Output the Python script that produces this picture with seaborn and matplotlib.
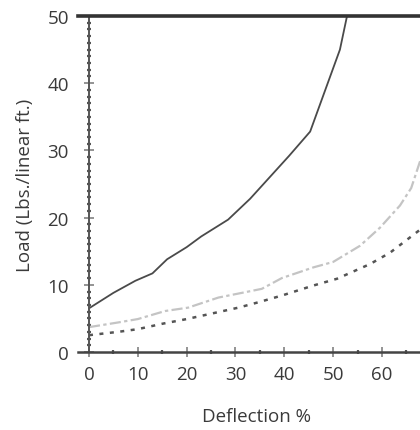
import matplotlib
matplotlib.use("Agg")
import matplotlib.pyplot as plt
import seaborn as sns
import pandas as pd
from matplotlib.ticker import MultipleLocator

# ---- data ----
solid_x = [0, 5, 9.5, 13, 16, 20, 23, 28.5, 33, 37, 41, 45.3, 48.7, 51.4, 53]
solid_y = [6.5, 8.8, 10.6, 11.7, 13.8, 15.6, 17.2, 19.7, 22.8, 26.0, 29.2, 32.8, 39.6, 45, 50.5]

gray_x = [0, 6, 10, 15.6, 20.3, 26.5, 32, 35.4, 39.5, 46, 50, 55.5, 59.6, 63.7, 66, 68]
gray_y = [3.7, 4.4, 4.9, 6.1, 6.6, 8.1, 8.9, 9.4, 11.0, 12.6, 13.4, 15.8, 18.5, 21.8, 24.4, 28.8]

dash_x = [0, 6, 10, 15, 20, 25, 30.6, 34.7, 39.5, 46, 50.8, 57.6, 61.7, 67.1, 68]
dash_y = [2.5, 3.0, 3.4, 4.2, 4.9, 5.7, 6.6, 7.4, 8.4, 9.9, 10.9, 13.1, 14.8, 17.8, 18.3]

x_ticks = [0, 10, 20, 30, 40, 50, 60]
y_ticks = [0, 10, 20, 30, 40, 50]
x_label = "Deflection %"
y_label = "Load (Lbs./linear ft.)"

sns.set_style("white")
plt.rcParams["font.family"] = ["Open Sans", "DejaVu Sans"]
txt = "#3a3a3a"
fs = 13.5

fig = plt.figure(figsize=(4.2, 4.31), dpi=100)
ax = fig.add_axes([78 / 420, 1 - 353 / 431, 342 / 420, 336 / 431])

sns.lineplot(x=solid_x, y=solid_y, ax=ax, color="#4a4a4a", lw=1.3,
             sort=False, estimator=None)
sns.lineplot(x=gray_x, y=gray_y, ax=ax, color="#c4c4c4", lw=1.6,
             linestyle=(0, (5, 1.5, 1.5, 1.5)), sort=False, estimator=None)
sns.lineplot(x=dash_x, y=dash_y, ax=ax, color="#555555", lw=1.8,
             linestyle=(0, (1.6, 2.6)), sort=False, estimator=None)

ax.set_xlim(-2.25, 67.8)
ax.set_ylim(0, 50)

ax.spines["right"].set_visible(False)
ax.spines["left"].set_position(("data", 0))
ax.spines["left"].set_color("#555555")
ax.spines["left"].set_linewidth(1.4)
ax.spines["bottom"].set_color("#444444")
ax.spines["bottom"].set_linewidth(1.8)
ax.spines["top"].set_color("#333333")
ax.spines["top"].set_linewidth(2.6)

ax.set_xticks(x_ticks)
ax.set_yticks(y_ticks)
ax.xaxis.set_minor_locator(MultipleLocator(5))
ax.yaxis.set_minor_locator(MultipleLocator(1))
ax.tick_params(axis="both", which="major", direction="inout", length=7,
               width=1.1, color="#777777", labelsize=fs, labelcolor=txt)
ax.tick_params(axis="y", which="major", pad=11)
ax.tick_params(axis="x", which="major", pad=6)
ax.tick_params(axis="both", which="minor", direction="inout", length=3.5,
               width=1.6, color="#555555")
ax.tick_params(top=False, right=False, bottom=True, left=True)
ax.tick_params(which="minor", top=False, right=False, bottom=True, left=True)

ax.set_xlabel(x_label, fontsize=fs, color=txt)
ax.set_ylabel(y_label, fontsize=fs, color=txt)
ax.xaxis.set_label_coords(0.523, -0.165)
ax.yaxis.set_label_coords(-0.13, 0.5)

for sp in ax.spines.values():
    sp.set_clip_on(False)

fig.savefig("out.png", dpi=100)
